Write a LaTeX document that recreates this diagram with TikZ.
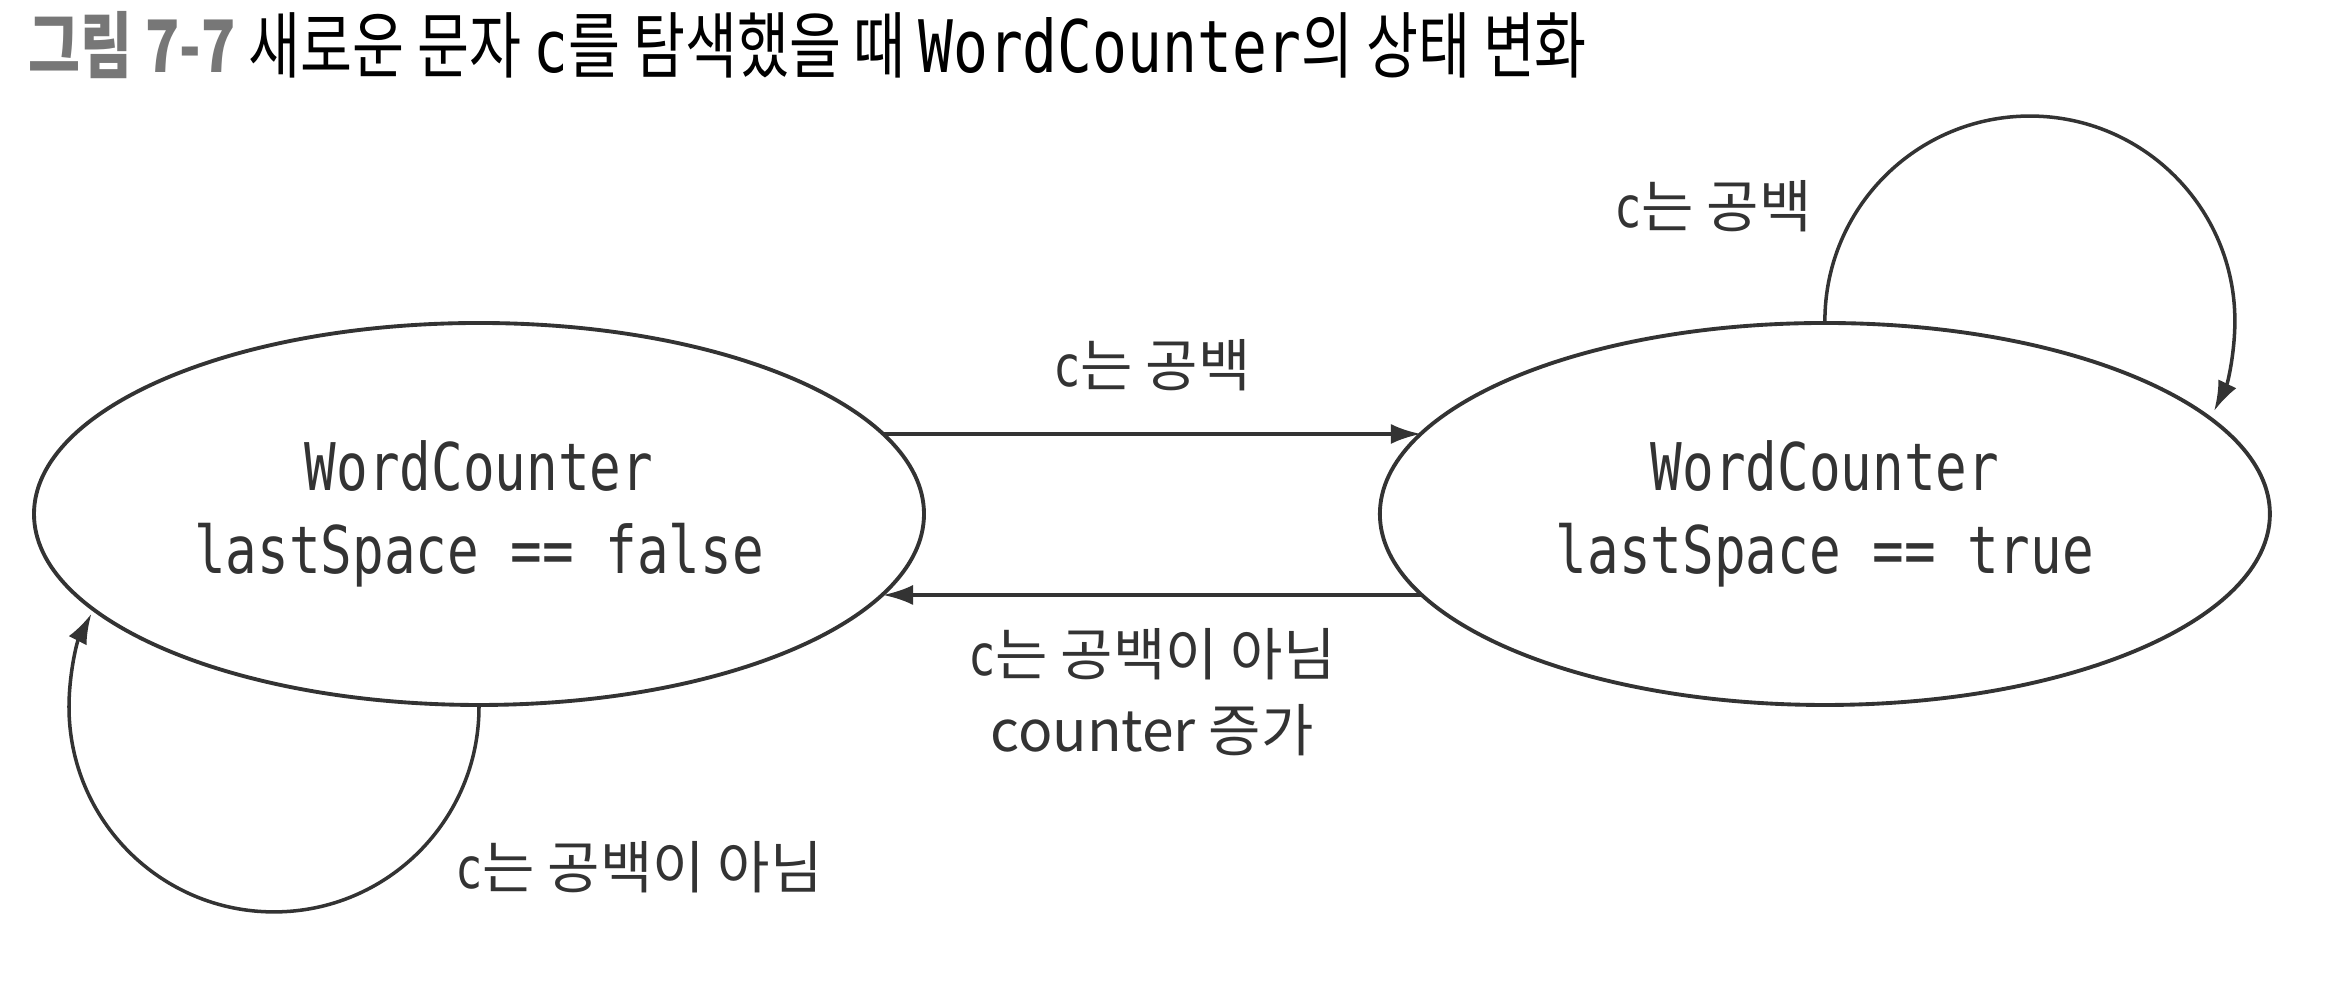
\documentclass[tikz,border=0pt]{standalone}
\usepackage{fontspec}
\setmainfont{Noto Sans CJK KR}
\newfontfamily\krtitle[FakeStretch=0.78]{Noto Sans CJK KR}
\newfontfamily\codefont[FakeStretch=0.8]{DejaVu Sans Mono}
\usepackage{tikz}
\usetikzlibrary{positioning, shapes, arrows.meta, calc}
\definecolor{inkgray}{HTML}{333333}
\definecolor{titlegray}{HTML}{777777}

\begin{document}
\begin{tikzpicture}[>={Latex[length=0.3cm,width=0.2cm]}, line width=1pt, draw=inkgray, text=inkgray,
  state/.style={draw, line width=1.1pt, ellipse, minimum width=8.9cm, minimum height=3.82cm,
    inner sep=0pt, align=center, font=\codefont\fontsize{18.7}{23.8}\selectfont},
  lbl/.style={font=\fontsize{16.2}{21.5}\selectfont, align=center},
]
  \useasboundingbox (0,0) rectangle (23.51,10);

  % title
  \node[anchor=west, inner sep=0pt, text=black, font=\krtitle\fontsize{20.6}{22}\selectfont] (title) at (0.27,9.55)
    {{\color{titlegray}\bfseries 그림 7-7} 새로운 문자 {\codefont c}를 탐색했을 때 {\codefont WordCounter}의 상태 변화};

  % states
  \node[state] (wcf) at (4.79,4.86) {WordCounter\\lastSpace == false};
  \node[state, right=4.52cm of wcf] (wct) {WordCounter\\lastSpace == true};

  % transitions
  \path[->] ($(wcf.center)+(4.04,0.8)$) edge node[lbl, above=0.3cm] {{\codefont c}는 공백} ($(wct.center)+(-4.04,0.8)$);
  \path[->] ($(wct.center)+(-4.04,-0.81)$) edge node[lbl, below=0.2cm] {{\codefont c}는 공백이 아님\\counter 증가} ($(wcf.center)+(4.04,-0.81)$);

  % self loops
  \draw[->] (wct.north) arc[start angle=180, end angle=-26, radius=2.05cm];
  \node[lbl] (loopt) at (17.13,7.94) {{\codefont c}는 공백};
  \draw[->] (wcf.south) arc[start angle=0, end angle=-207, radius=2.05cm];
  \node[lbl] (loopf) at (6.39,1.33) {{\codefont c}는 공백이 아님};
\end{tikzpicture}
\end{document}
